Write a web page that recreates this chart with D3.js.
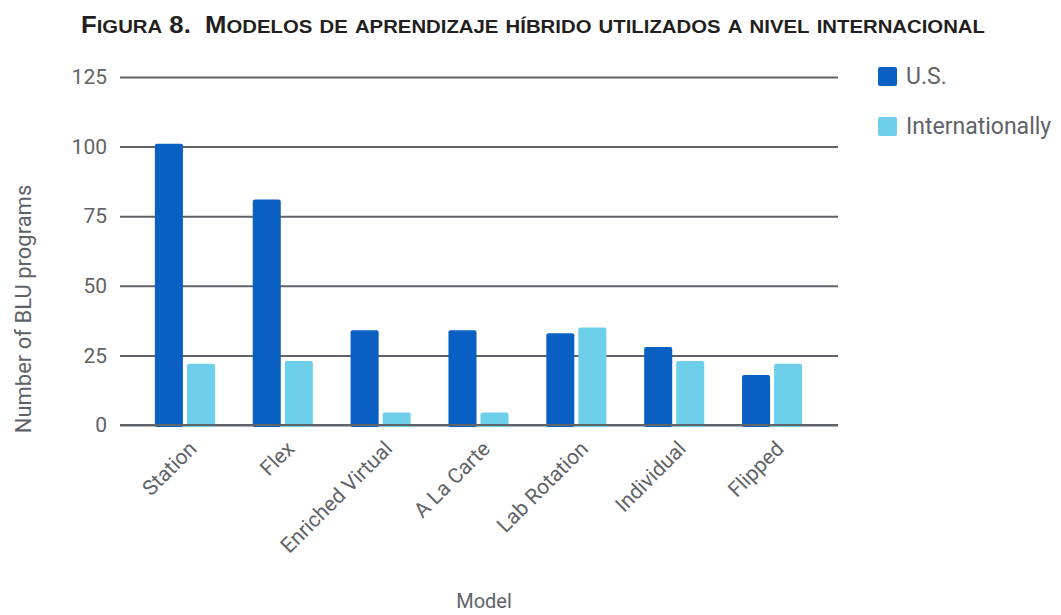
<!DOCTYPE html>
<html lang="es">
  <head>
    <meta charset="utf-8">
    <title>Figura 8</title>
    <style>
      body {margin: 0; background: #fff;}
      svg {display: block;}
      .title {font-family: "Liberation Sans", Arial, sans-serif; font-weight: bold; fill: #231f20;}
      .axis text, .lbl {font-family: Roboto, "Noto Sans", sans-serif; fill: #5f6368;}
      .grid line {stroke: #5f6368; stroke-width: 2;}
    </style>
    <script src="https://d3js.org/d3.v7.min.js"></script>
  </head>
  <body>
    <script type="text/javascript">
      // data
      var models = ["Station", "Flex", "Enriched Virtual", "A La Carte", "Lab Rotation", "Individual", "Flipped"];
      var series = ["U.S.", "Internationally"];
      var usValues = [101, 81, 34, 34, 33, 28, 18];
      var intlValues = [22, 23, 4.5, 4.5, 35, 23, 22];
      var yTicks = [0, 25, 50, 75, 100, 125];
      var colors = ["#0a60c2", "#6dcfe9"];
      var titleText = "Figura 8.  Modelos de aprendizaje híbrido utilizados a nivel internacional";

      var width = 1061, height = 615;
      var gridLeft = 120, gridRight = 838;

      var svg = d3.select("body").append("svg")
        .attr("width", width)
        .attr("height", height);

      // title in small caps: split into runs of capitals / lowercase
      var title = svg.append("text")
        .attr("class", "title")
        .attr("x", 81)
        .attr("y", 33)
        .attr("textLength", 904)
        .attr("lengthAdjust", "spacingAndGlyphs")
        .attr("xml:space", "preserve");
      var runs = titleText.match(/([^a-záéíóúñ]+|[a-záéíóúñ]+)/g);
      runs.forEach(function(r) {
        var lower = /[a-záéíóúñ]/.test(r);
        title.append("tspan")
          .style("font-size", lower ? "19px" : "24px")
          .text(r.toUpperCase());
      });

      // scales
      var y = d3.scaleLinear().domain([0, 125]).range([425, 77]);
      var x0 = d3.scaleBand().domain(models).range([136, 821])
        .paddingInner(0.386).paddingOuter(0.193);
      var x1 = d3.scaleBand().domain(series).range([0, x0.bandwidth()])
        .paddingInner(0.125);

      // gridlines + y labels
      var yAxis = svg.append("g")
        .attr("class", "axis grid")
        .attr("transform", "translate(" + gridLeft + ",0)")
        .call(d3.axisLeft(y).tickValues(yTicks).tickSize(-(gridRight - gridLeft)).tickPadding(13));
      yAxis.select(".domain").remove();
      yAxis.selectAll("text").style("font-size", "21px");

      // bars
      var rows = models.map(function(m, i) {
        return {model: m, values: [usValues[i], intlValues[i]]};
      });

      svg.append("g").selectAll("g")
        .data(rows)
        .enter().append("g")
        .attr("transform", function(d) { return "translate(" + x0(d.model) + ",0)"; })
        .selectAll("rect")
        .data(function(d) { return d.values.map(function(v, j) { return {s: series[j], v: v, c: colors[j]}; }); })
        .enter().append("rect")
        .attr("x", function(d) { return x1(d.s); })
        .attr("y", function(d) { return y(d.v); })
        .attr("width", x1.bandwidth())
        .attr("height", function(d) { return y(0) - y(d.v) + 2; })
        .attr("rx", 2)
        .attr("fill", function(d) { return d.c; });

      // baseline on top of the bars
      svg.append("line")
        .attr("x1", gridLeft).attr("x2", gridRight)
        .attr("y1", y(0)).attr("y2", y(0))
        .attr("stroke", "#5f6368").attr("stroke-width", 2);

      // x labels, rotated
      svg.append("g").selectAll("text")
        .data(models)
        .enter().append("text")
        .attr("class", "lbl")
        .attr("text-anchor", "end")
        .style("font-size", "21px")
        .attr("transform", function(d) {
          return "translate(" + (x0(d) + x0.bandwidth() / 2 + 13) + ",450) rotate(-45)";
        })
        .text(function(d) { return d; });

      // axis titles
      svg.append("text")
        .attr("class", "lbl")
        .attr("text-anchor", "middle")
        .style("font-size", "22px")
        .attr("transform", "translate(31,309) rotate(-90)")
        .text("Number of BLU programs");

      svg.append("text")
        .attr("class", "lbl")
        .attr("text-anchor", "middle")
        .style("font-size", "20px")
        .attr("x", 484)
        .attr("y", 608)
        .text("Model");

      // legend
      var legend = svg.append("g").selectAll("g")
        .data(series)
        .enter().append("g")
        .attr("transform", function(d, i) { return "translate(878," + (67 + i * 50) + ")"; });
      legend.append("rect")
        .attr("width", 19).attr("height", 19).attr("rx", 2)
        .attr("fill", function(d, i) { return colors[i]; });
      legend.append("text")
        .attr("class", "lbl")
        .attr("x", 28).attr("y", 17)
        .style("font-size", "23px")
        .text(function(d) { return d; });
    </script>
  </body>
</html>
